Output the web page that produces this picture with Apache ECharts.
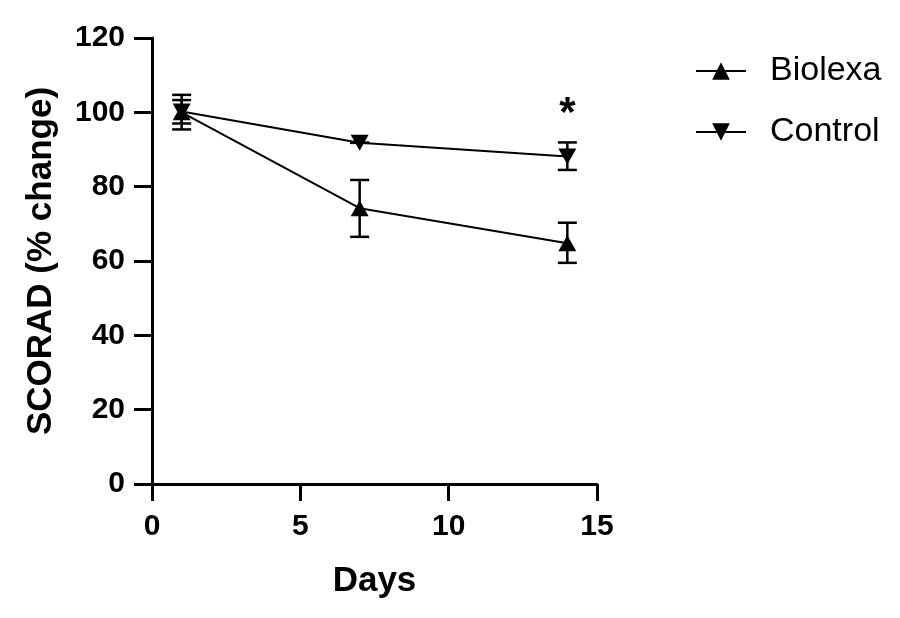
<!DOCTYPE html>
<html>
<head>
<meta charset="utf-8">
<script src="https://cdn.jsdelivr.net/npm/echarts@6/dist/echarts.min.js"></script>
<style>html,body{margin:0;padding:0;background:#fff}#c{width:900px;height:618px}</style>
</head>
<body>
<div id="c"></div>
<script>
var days = [1, 7, 14];
var biolexaMean = [100, 74.2, 64.8];
var biolexaLow = [97, 66.5, 59.5];
var biolexaHigh = [103.3, 81.8, 70.3];
var controlMean = [100.2, 91.8, 88.1];
var controlLow = [95.4, 91.8, 84.5];
var controlHigh = [104.7, 91.8, 91.9];
var yTicks = [0, 20, 40, 60, 80, 100, 120];
var xTicks = [0, 5, 10, 15];
var sigLabel = [{ day: 14, value: 99.5, text: '*' }];

var font = '"Liberation Sans", Arial, sans-serif';

function errData(low, high) {
  return days.map(function (d, i) { return [d, low[i], high[i]]; });
}
function errRender(params, api) {
  var x = api.value(0);
  var lo = api.coord([x, api.value(1)]);
  var hi = api.coord([x, api.value(2)]);
  var w = 9.5;
  var st = { stroke: '#000', lineWidth: 2.5 };
  return {
    type: 'group',
    children: [
      { type: 'line', shape: { x1: lo[0], y1: lo[1], x2: hi[0], y2: hi[1] }, style: st },
      { type: 'line', shape: { x1: lo[0] - w, y1: lo[1], x2: lo[0] + w, y2: lo[1] }, style: st },
      { type: 'line', shape: { x1: hi[0] - w, y1: hi[1], x2: hi[0] + w, y2: hi[1] }, style: st }
    ]
  };
}
function sigRender(params, api) {
  var p = api.coord([api.value(0), api.value(1)]);
  return {
    type: 'text',
    x: p[0], y: p[1],
    style: {
      text: sigLabel[params.dataIndex].text,
      font: 'bold 42px ' + font,
      fill: '#000',
      align: 'center',
      verticalAlign: 'middle'
    }
  };
}

var chart = echarts.init(document.getElementById('c'));
chart.setOption({
  animation: false,
  backgroundColor: '#fff',
  grid: { left: 152, top: 38, right: 303, bottom: 134, containLabel: false },
  legend: {
    orient: 'vertical',
    left: 690,
    top: 49,
    itemWidth: 50,
    itemHeight: 22,
    itemGap: 27,
    textStyle: { fontFamily: font, fontSize: 34, color: '#000', padding: [0, 0, 0, 19] },
    data: ['Biolexa', 'Control']
  },
  xAxis: {
    type: 'value', min: 0, max: 15, interval: 5,
    name: 'Days', nameLocation: 'middle', nameGap: 80,
    nameTextStyle: { fontFamily: font, fontSize: 35, fontWeight: 'bold', color: '#000' },
    axisLine: { onZero: false, lineStyle: { color: '#000', width: 3 } },
    axisTick: { show: true, length: 17, lineStyle: { color: '#000', width: 3 } },
    axisLabel: { margin: 28, fontFamily: font, fontSize: 30, fontWeight: 'bold', color: '#000' },
    splitLine: { show: false }
  },
  yAxis: {
    type: 'value', min: 0, max: 120, interval: 20,
    name: 'SCORAD (% change)', nameLocation: 'middle', nameGap: 93,
    nameTextStyle: { fontFamily: font, fontSize: 35, fontWeight: 'bold', color: '#000' },
    axisLine: { onZero: false, lineStyle: { color: '#000', width: 3 } },
    axisTick: { show: true, length: 18, lineStyle: { color: '#000', width: 3 } },
    axisLabel: { margin: 27, fontFamily: font, fontSize: 30, fontWeight: 'bold', color: '#000' },
    splitLine: { show: false }
  },
  series: [
    {
      name: 'Biolexa', type: 'line',
      data: days.map(function (d, i) { return [d, biolexaMean[i]]; }),
      symbol: 'triangle', symbolSize: [18, 16],
      lineStyle: { color: '#000', width: 2 },
      itemStyle: { color: '#000' }, z: 3
    },
    {
      name: 'Control', type: 'line',
      data: days.map(function (d, i) { return [d, controlMean[i]]; }),
      symbol: 'triangle', symbolRotate: 180, symbolSize: [18, 16],
      lineStyle: { color: '#000', width: 2 },
      itemStyle: { color: '#000' }, z: 3
    },
    { type: 'custom', renderItem: errRender, data: errData(biolexaLow, biolexaHigh), z: 2, silent: true },
    { type: 'custom', renderItem: errRender, data: errData(controlLow, controlHigh), z: 2, silent: true },
    {
      type: 'custom', renderItem: sigRender, silent: true, z: 4,
      data: sigLabel.map(function (s) { return [s.day, s.value]; })
    }
  ]
});
</script>
</body>
</html>
